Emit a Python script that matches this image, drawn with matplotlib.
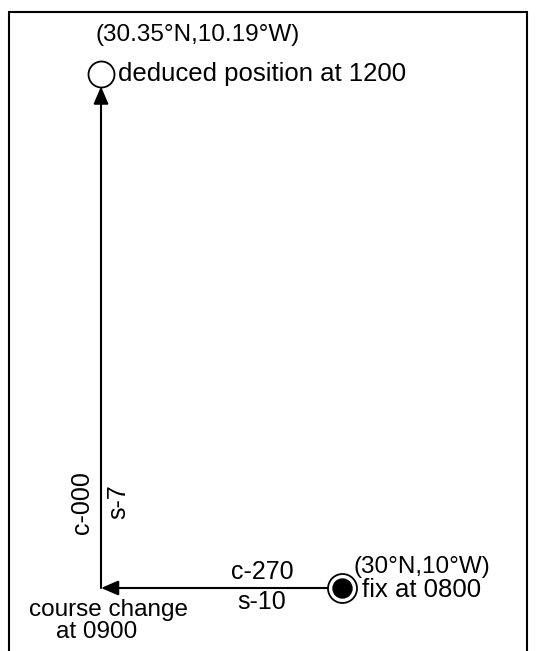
import matplotlib
matplotlib.use("Agg")
import matplotlib.pyplot as plt
from matplotlib.patches import Rectangle

# Dead-reckoning plot data (positions in nautical miles east/north of the 0800 fix)
east_nm = [0, -10, -10]
north_nm = [0, 0, 21]
fix_label = "(30°N,10°W)"
dr_label = "(30.35°N,10.19°W)"
point_names = ["fix at 0800", "course change\nat 0900", "deduced position at 1200"]
leg_courses = ["c-270", "c-000"]
leg_speeds = ["s-10", "s-7"]

plt.rcParams['font.family'] = ['Liberation Sans', 'DejaVu Sans']

W, H = 536, 651
fig = plt.figure(figsize=(W / 100, H / 100), dpi=100)
ax = fig.add_axes([0, 0, 1, 1])
ax.set_axis_off()

# pixel mapping: fix at (342, 588), ~24 px per nm horizontally, 24.5 vertically
x0, y0, sx, sy = 342, 588, 24.1, 24.5
ax.set_xlim(-x0 / sx, (W - x0) / sx)
ax.set_ylim(-(H - y0) / sy, y0 / sy)

PT = 0.72  # points per pixel
lw = 1.5

# frame
ax.add_patch(Rectangle((9 / W, -0.1), 518 / W, 1.1 - 12 / H, transform=ax.transAxes,
                       fill=False, lw=lw, ec='black', clip_on=False))

head = '-|>,head_length=1.05,head_width=0.45'
# legs
ax.annotate("", xy=(east_nm[1], north_nm[1]), xytext=(east_nm[0], north_nm[0]),
            arrowprops=dict(arrowstyle=head, color='black',
                            lw=lw, shrinkA=14 * PT, shrinkB=0))
ax.annotate("", xy=(east_nm[2], north_nm[2]), xytext=(east_nm[1], north_nm[1]),
            arrowprops=dict(arrowstyle=head, color='black',
                            lw=lw, shrinkA=0, shrinkB=13 * PT))

# markers
ax.plot(east_nm[0], north_nm[0], 'o', ms=29 * PT, mfc='white', mec='black', mew=1.3, zorder=5)
ax.plot(east_nm[0], north_nm[0], 'o', ms=19 * PT, mfc='black', mec='black', zorder=6)
ax.plot(east_nm[2], north_nm[2], 'o', ms=26 * PT, mfc='white', mec='black', mew=1.3, zorder=5)

def lab(txt, pt, dx, dy, ha='center', va='center', rot=0, size=18, **kw):
    ax.annotate(txt, xy=(east_nm[pt], north_nm[pt]), xytext=(dx * PT, -dy * PT),
                textcoords='offset points', ha=ha, va=va, rotation=rot, fontsize=size, **kw)

# deduced position labels (point at pixel 101,73)
lab(dr_label, 2, 97, -39, size=17.5)
lab(point_names[2], 2, 17, 0, ha='left', size=18.5)
# fix labels (pixel 342,588)
lab(fix_label, 0, 80, -21, size=17.5)
lab(point_names[0], 0, 20, 2, ha='left', size=18.5)
# course change (pixel 101,588): first line centred, second slightly left
l1, l2 = point_names[1].split("\n")
lab(l1 + "\n    " + l2, 1, -72, 33, ha='left', size=17.5,
    multialignment='left', linespacing=0.95)
# leg labels
lab(leg_courses[0], 1, 161, -16)
lab(leg_speeds[0], 1, 161, 14)
lab(leg_courses[1], 1, -19, -85, rot=90)
lab(leg_speeds[1], 1, 17, -86, rot=90)

fig.savefig("out.png", dpi=100)
